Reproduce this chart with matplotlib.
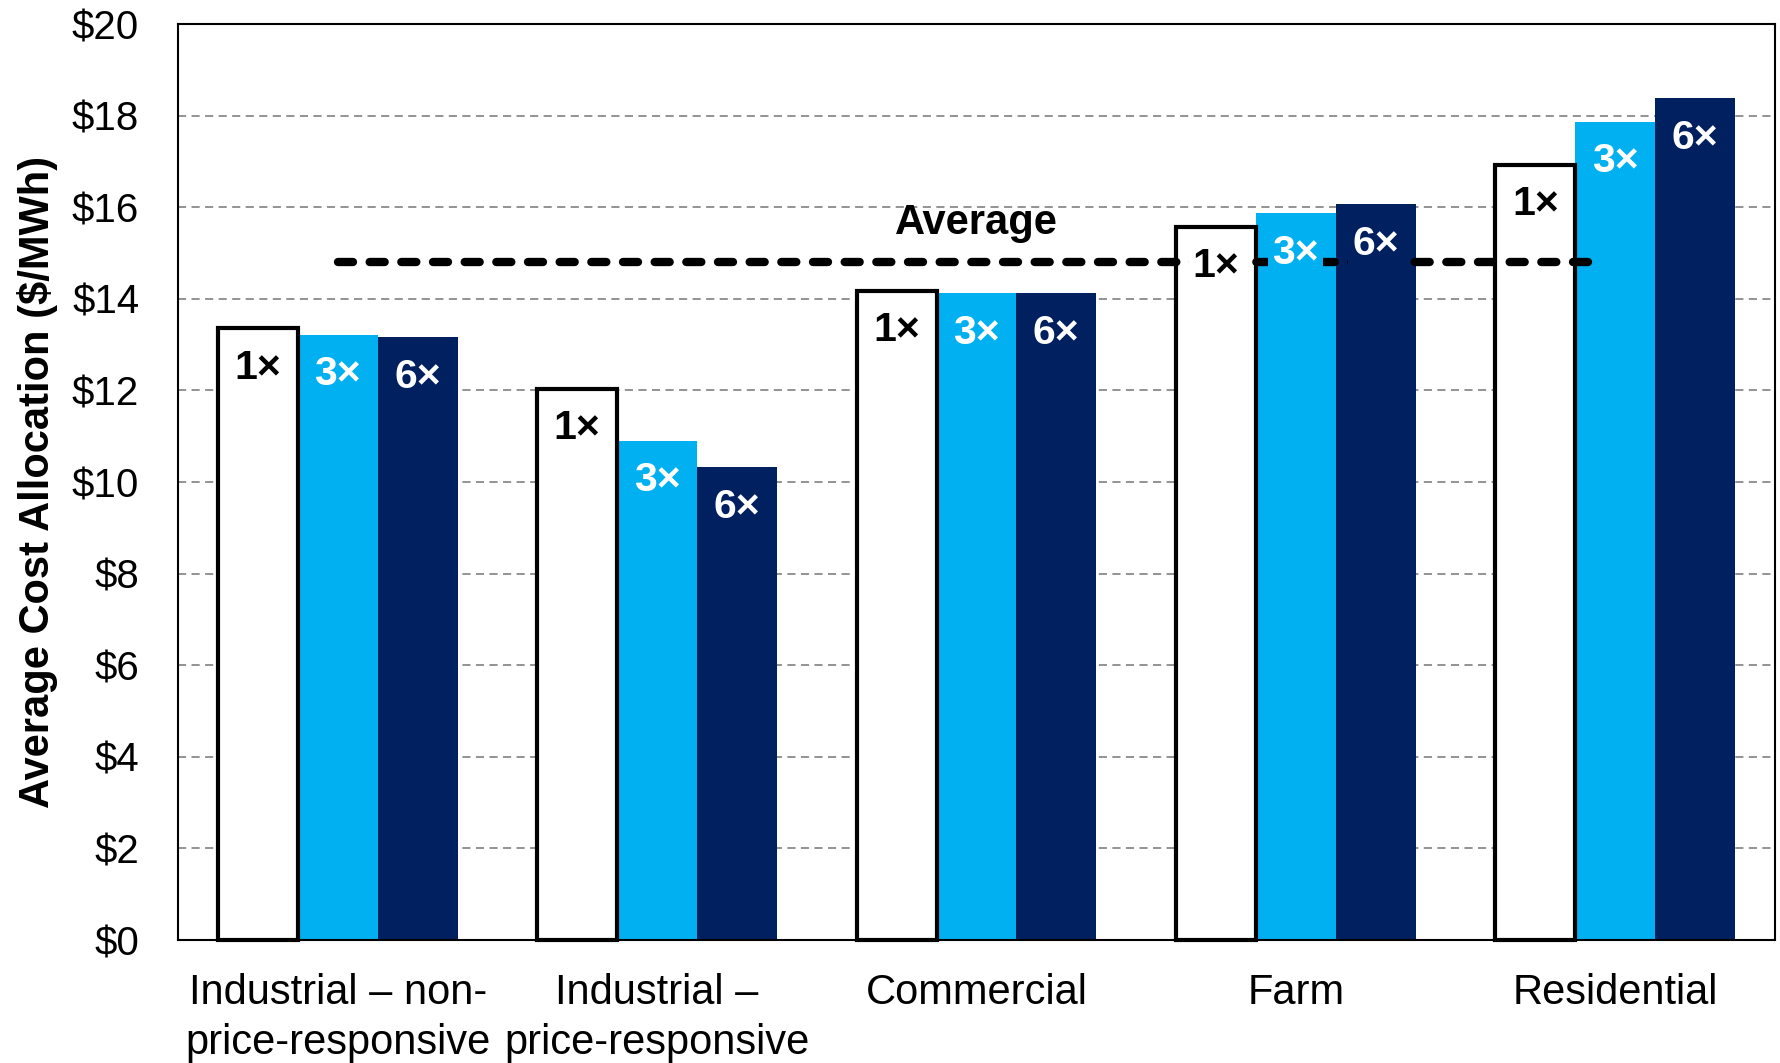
import matplotlib
matplotlib.use("Agg")
import matplotlib.pyplot as plt
import numpy as np

categories = ["Industrial – non-\nprice-responsive", "Industrial –\nprice-responsive",
              "Commercial", "Farm", "Residential"]
series_names = ["1×", "3×", "6×"]
values_1x = [13.36, 12.03, 14.17, 15.57, 16.92]
values_3x = [13.22, 10.90, 14.12, 15.87, 17.86]
values_6x = [13.16, 10.32, 14.12, 16.06, 18.38]
average_value = 14.8
yticks = [0, 2, 4, 6, 8, 10, 12, 14, 16, 18, 20]
ytick_labels = ["$" + str(v) for v in yticks]

plt.rcParams['font.family'] = ['Liberation Sans', 'DejaVu Sans']

fig = plt.figure(figsize=(17.81, 10.63), dpi=100)
ax = fig.add_axes([0.1, 0.1157, 0.8966, 0.8617])

x = np.arange(len(categories))
w = 0.25
cyan = "#00B0F0"
navy = "#002060"

b3 = ax.bar(x, values_3x, width=w, color=cyan, zorder=2)
b6 = ax.bar(x + w, values_6x, width=w, color=navy, zorder=2)
b1 = ax.bar(x - w, values_1x, width=w, facecolor="white", edgecolor="black",
            linewidth=3, zorder=2.5, clip_on=False)

# average line
ax.plot([0, 3.965], [average_value, average_value], color="black", linewidth=6,
        linestyle=(0, (1.8, 2.0)), dash_capstyle="round", zorder=3)
ax.text(2, 15.65, "Average", ha="center", va="center", fontsize=30,
        fontweight="bold", zorder=5)

# bar labels
for bars, vals, lab, fc, tc in [(b1, values_1x, "1×", "white", "black"),
                                (b3, values_3x, "3×", cyan, "white"),
                                (b6, values_6x, "6×", navy, "white")]:
    for rect, v in zip(bars, vals):
        ax.text(rect.get_x() + rect.get_width() / 2, v - 0.86, lab,
                ha="center", va="center", fontsize=29.5, fontweight="bold",
                color=tc, zorder=4,
                bbox=dict(facecolor=fc, edgecolor="none", pad=3))

ax.set_xlim(-0.5, 4.5)
ax.set_ylim(0, 20)
ax.set_yticks(yticks)
ax.set_yticklabels(ytick_labels, fontsize=29)
ax.set_xticks(x)
ax.set_xticklabels(categories, fontsize=30, linespacing=1.3)
ax.tick_params(axis="y", length=0, pad=28)
ax.tick_params(axis="x", length=0, pad=24)
ax.set_ylabel("Average Cost Allocation ($/MWh)", fontsize=30, fontweight="bold",
              labelpad=10)

ax.yaxis.grid(True, color="#8a8a8a", linewidth=1.3, linestyle=(0, (4.5, 3)))
ax.set_axisbelow(True)
for s in ax.spines.values():
    s.set_linewidth(1.5)
    s.set_color("black")

fig.savefig("out.png", dpi=100)
